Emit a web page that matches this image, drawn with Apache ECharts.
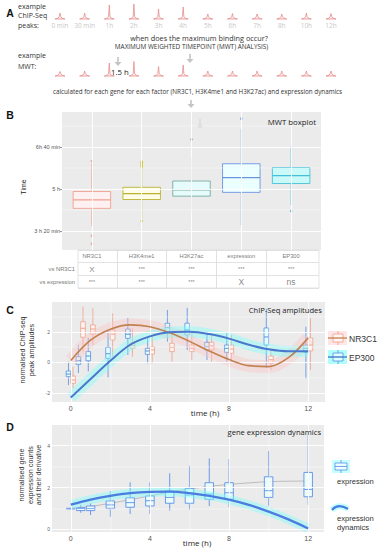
<!DOCTYPE html>
<html><head><meta charset="utf-8">
<script src="https://cdn.jsdelivr.net/npm/echarts@6/dist/echarts.min.js"></script>
<style>html,body{margin:0;padding:0;background:#fff}#c{width:379px;height:550px}</style>
</head><body><div id="c"></div>
<script>
// ---------- Panel A ----------
const peakLabels = ['0 min','30 min','1h','2h','3h','4h','5h','6h','7h','8h','10h','12h'];
const chipPeakHeights = [6, 6, 14, 15, 10, 12, 5, 5.5, 5, 5, 6, 5.5];
const mwtPeakHeights = [4.5, 5, 13, 14.5, 9.5, 11, 5, 5, 5, 5, 5, 5];

// ---------- Panel B (minutes) ----------
const mwtCategories = ['NR3C1','H3K4me1','H3K27ac','expression','EP300'];
const mwtMin    = [212, 230, 244, 214, 262];
const mwtQ1     = [254, 275, 283, 292, 313];
const mwtMedian = [274, 289, 298, 327, 332];
const mwtQ3     = [294, 304, 319, 360, 351];
const mwtMax    = [360, 349, 374, 443, 401];
const mwtOutlierCat = [0, 0, 0, 1, 1, 1, 1, 1, 1, 1, 2, 3, 4];
const mwtOutlierVal = [366, 189, 170, 351, 354, 357, 360, 363, 365, 224, 418, 467, 248];
const mwtTickValues = [200, 300, 400];
const mwtTickLabels = ['3 h 20 min', '5 h', '6h 40 min'];
const tableRows = ['', 'vs NR3C1', 'vs expression'];
const vsNR3C1 = ['X', '***', '***', '***', '***'];
const vsExpression = ['***', '***', '***', 'X', 'ns'];

// ---------- Panel C ----------
const timePoints = [0, 0.5, 1, 2, 3, 4, 5, 6, 7, 8, 10, 12];
const nr3c1Boxes = [
  [-1.7, -1.38, -1.16, -0.9, -0.29],
  [0.7, 1.64, 2.23, 2.66, 3.65],
  [1.13, 1.84, 2.18, 2.45, 3.54],
  [0.37, 1.46, 1.84, 2.12, 3.21],
  [0.37, 0.92, 1.09, 1.25, 2.23],
  [-0.07, 0.54, 0.81, 1.02, 1.68],
  [0.04, 0.7, 0.98, 1.25, 2.0],
  [0.15, 0.7, 0.92, 1.13, 2.0],
  [0.04, 0.81, 1.07, 1.31, 1.9],
  [-0.07, 0.59, 0.87, 1.13, 1.79],
  [-0.5, -0.07, 0.17, 0.41, 0.81],
  [-0.5, 0.75, 1.13, 1.6, 2.88]
];
const ep300Boxes = [
  [-1.49, -0.94, -0.77, -0.57, 0.04],
  [-0.7, -0.13, 0.1, 0.37, 1.13],
  [-0.6, 0.1, 0.41, 0.7, 1.6],
  [-1.0, 0.26, 0.56, 0.98, 2.1],
  [0.48, 1.57, 1.84, 2.18, 2.9],
  [-0.07, 0.52, 0.74, 0.92, 1.68],
  [1.35, 1.97, 2.27, 2.56, 3.43],
  [0.81, 1.79, 2.12, 2.56, 3.56],
  [0.15, 0.81, 1.02, 1.31, 2.0],
  [0.04, 0.65, 0.92, 1.13, 1.92],
  [-0.35, 1.13, 1.66, 2.25, 3.5],
  [-1.05, 0.65, 0.92, 1.13, 2.33]
];
const curveTimes = [0, 1, 2, 3, 4, 5, 6, 7, 8, 9, 10, 11, 12];
const nr3c1Fit = [0.12, 1.45, 2.17, 2.45, 2.33, 1.93, 1.37, 0.74, 0.18, -0.22, -0.28, 0.3, 1.6];
const ep300Fit = [-2.3, -1.1, 0.1, 1.15, 1.7, 1.97, 2.0, 1.85, 1.55, 1.15, 0.85, 0.72, 0.72];

// ---------- Panel D ----------
const exprBoxes = [
  [0.97, 0.99, 1.0, 1.01, 1.03],
  [0.8, 0.9, 1.0, 1.04, 1.17],
  [0.69, 0.9, 1.0, 1.12, 1.25],
  [0.61, 1.01, 1.17, 1.36, 1.83],
  [0.74, 1.06, 1.28, 1.51, 2.25],
  [0.74, 1.12, 1.37, 1.6, 2.25],
  [0.9, 1.25, 1.53, 1.83, 2.68],
  [0.93, 1.25, 1.64, 1.96, 3.04],
  [1.12, 1.44, 1.69, 2.23, 3.39],
  [1.06, 1.44, 1.75, 2.23, 3.36],
  [1.13, 1.53, 1.85, 2.51, 3.74],
  [1.17, 1.56, 1.91, 2.72, 4.5]
];
const exprTrend = [1.0, 1.1, 1.25, 1.42, 1.6, 1.78, 1.93, 2.05, 2.15, 2.22, 2.28, 2.3, 2.31];
const exprDerivative = [1.18, 1.42, 1.6, 1.73, 1.79, 1.8, 1.73, 1.6, 1.42, 1.17, 0.85, 0.48, 0.05];

// ---------- styles ----------
const SANS = 'Liberation Sans';
const HUM = 'Open Sans';
const bStroke = ['#f0a090', '#b9b335', '#78aaa2', '#6c92e0', '#45bfd6'];
const bFill = ['#fff1f1', '#fffde6', '#e6fbfb', '#ebffff', '#c9f9f9'];
const bOut = ['#e69b8c', '#c9c32a', '#7a9c98', '#6a8fe0', '#3aa8b8'];

function makeBox(widthPx, offsetPx, strokeFn, fillFn, lw, medLw) {
  return function (params, api) {
    const x = api.value(0);
    const pMin = api.coord([x, api.value(1)]);
    const pQ1 = api.coord([x, api.value(2)]);
    const pMed = api.coord([x, api.value(3)]);
    const pQ3 = api.coord([x, api.value(4)]);
    const pMax = api.coord([x, api.value(5)]);
    const cx = pMed[0] + offsetPx, hw = widthPx / 2;
    const stroke = strokeFn(params.dataIndex), fill = fillFn(params.dataIndex);
    return {type: 'group', children: [
      {type: 'line', shape: {x1: cx, y1: pMax[1], x2: cx, y2: pQ3[1]}, style: {stroke, lineWidth: lw}},
      {type: 'line', shape: {x1: cx, y1: pQ1[1], x2: cx, y2: pMin[1]}, style: {stroke, lineWidth: lw}},
      {type: 'rect', shape: {x: cx - hw, y: pQ3[1], width: 2 * hw, height: Math.max(0.8, pQ1[1] - pQ3[1])}, style: {fill, stroke, lineWidth: lw}},
      {type: 'line', shape: {x1: cx - hw, y1: pMed[1], x2: cx + hw, y2: pMed[1]}, style: {stroke, lineWidth: medLw}}
    ]};
  };
}

function peakRender(params, api) {
  const b = api.coord([api.value(0), 0]);
  const t = api.coord([api.value(0), api.value(1)]);
  const x = b[0], y0 = b[1], y1 = t[1];
  return {type: 'polygon', shape: {points: [[x - 5, y0], [x - 2, y0 - 0.8], [x - 0.7, y0 - 2.6], [x, y1], [x + 0.7, y0 - 2.6], [x + 2, y0 - 0.8], [x + 5, y0]]},
    style: {fill: 'rgba(248,190,190,0.3)', stroke: '#e38a8a', lineWidth: 0.75}};
}

function gridSeries(xi, yi, vx, vy, vxMinor, vyMinor, color) {
  const c = color || '#ffffff';
  const data = [];
  vx.forEach(v => data.push({xAxis: v, lineStyle: {color: c, width: 0.9, type: 'solid'}}));
  vxMinor.forEach(v => data.push({xAxis: v, lineStyle: {color: c, width: 0.45, type: 'solid'}}));
  vy.forEach(v => data.push({yAxis: v, lineStyle: {color: c, width: 0.9, type: 'solid'}}));
  vyMinor.forEach(v => data.push({yAxis: v, lineStyle: {color: c, width: 0.45, type: 'solid'}}));
  return {type: 'line', xAxisIndex: xi, yAxisIndex: yi, data: [], silent: true, z: 1,
    markLine: {silent: true, symbol: ['none', 'none'], label: {show: false}, animation: false,
      emphasis: {disabled: true}, data}};
}

function hiddenAxis(extra) {
  return Object.assign({show: false}, extra);
}
const tickStyle = {show: true, length: 2.5, lineStyle: {color: '#555', width: 0.6}};

const boxData = (arr) => arr.map((b, i) => [timePoints[i], b[0], b[1], b[2], b[3], b[4]]);
const curveData = (arr) => curveTimes.map((t, i) => [t, arr[i]]);

const option = {
  animation: false,
  backgroundColor: '#ffffff',
  grid: [
    {left: 60, top: 3, width: 271, height: 16},
    {left: 60, top: 60, width: 271, height: 16},
    {left: 62, top: 112, width: 259, height: 138, show: true, backgroundColor: '#ebebeb', borderWidth: 0},
    {left: 78, top: 250, width: 241, height: 38, show: true, backgroundColor: '#ffffff', borderColor: '#dcdcdc', borderWidth: 0.8},
    {left: 52, top: 302, width: 273, height: 100, show: true, backgroundColor: '#ebebeb', borderWidth: 0},
    {left: 52, top: 425, width: 272, height: 107, show: true, backgroundColor: '#ebebeb', borderWidth: 0}
  ],
  xAxis: [
    {type: 'category', gridIndex: 0, data: peakLabels, boundaryGap: false,
      axisLine: {show: false}, axisTick: {show: false}, splitLine: {show: false},
      axisLabel: {interval: 0, color: '#c8c8c8', fontSize: 6.5, fontFamily: HUM, margin: 3}},
    {type: 'category', gridIndex: 1, data: peakLabels, boundaryGap: false, show: false},
    hiddenAxis({type: 'value', gridIndex: 2, min: 0.4, max: 5.6}),
    hiddenAxis({type: 'value', gridIndex: 3, min: 0.7212, max: 5.56}),
    {type: 'value', gridIndex: 4, min: -0.95, max: 12.85, axisLine: {show: false}, splitLine: {show: false},
      axisTick: Object.assign({customValues: [0, 4, 8, 12]}, tickStyle),
      axisLabel: {customValues: [0, 4, 8, 12], color: '#555', fontSize: 7, fontFamily: SANS, margin: 3}},
    {type: 'value', gridIndex: 5, min: -0.95, max: 12.8, axisLine: {show: false}, splitLine: {show: false},
      axisTick: Object.assign({customValues: [0, 4, 8, 12]}, tickStyle),
      axisLabel: {customValues: [0, 4, 8, 12], color: '#555', fontSize: 7, fontFamily: SANS, margin: 3}}
  ],
  yAxis: [
    hiddenAxis({type: 'value', gridIndex: 0, min: 0, max: 16}),
    hiddenAxis({type: 'value', gridIndex: 1, min: 0, max: 16}),
    {type: 'value', gridIndex: 2, min: 155, max: 483, axisLine: {show: false}, splitLine: {show: false},
      axisTick: Object.assign({customValues: mwtTickValues}, tickStyle, {length: 2}),
      axisLabel: {customValues: mwtTickValues, color: '#555', fontSize: 5.5, fontFamily: SANS, margin: 2,
        formatter: v => mwtTickLabels[mwtTickValues.indexOf(v)] || ''}},
    {type: 'category', gridIndex: 3, data: tableRows, inverse: true, axisLine: {show: false}, axisTick: {show: false},
      splitLine: {show: true, interval: 0, lineStyle: {color: '#dcdcdc', width: 0.8}},
      axisLabel: {interval: 0, color: '#777', fontSize: 5.8, fontFamily: SANS, margin: 3}},
    {type: 'value', gridIndex: 4, min: -2.6, max: 3.95, axisLine: {show: false}, splitLine: {show: false},
      axisTick: Object.assign({customValues: [-2, 0, 2]}, tickStyle, {length: 2}),
      axisLabel: {customValues: [-2, 0, 2], color: '#666', fontSize: 5, fontFamily: SANS, margin: 2}},
    {type: 'value', gridIndex: 5, min: -0.12, max: 4.98, axisLine: {show: false}, splitLine: {show: false},
      axisTick: Object.assign({customValues: [0, 2, 4]}, tickStyle, {length: 2}),
      axisLabel: {customValues: [0, 2, 4], color: '#666', fontSize: 5, fontFamily: SANS, margin: 2}}
  ],
  series: [
    // Panel A peaks
    {type: 'custom', xAxisIndex: 0, yAxisIndex: 0, renderItem: peakRender, encode: {x: 0, y: 1},
      data: chipPeakHeights.map((h, i) => [i, h])},
    {type: 'custom', xAxisIndex: 1, yAxisIndex: 1, renderItem: peakRender, encode: {x: 0, y: 1},
      data: mwtPeakHeights.map((h, i) => [i, h])},

    // Panel B
    gridSeries(2, 2, [1, 2, 3, 4, 5], mwtTickValues, [], [250, 350, 450]),
    {type: 'custom', xAxisIndex: 2, yAxisIndex: 2, z: 3, encode: {x: 0, y: [1, 2, 3, 4, 5]},
      renderItem: makeBox(37.5, 0, i => bStroke[i], i => bFill[i], 0.9, 1.3),
      data: mwtCategories.map((c, i) => [i + 1, mwtMin[i], mwtQ1[i], mwtMedian[i], mwtQ3[i], mwtMax[i]])},
    {type: 'scatter', xAxisIndex: 2, yAxisIndex: 2, z: 4, symbolSize: 2.6,
      data: mwtOutlierVal.map((v, i) => ({value: [mwtOutlierCat[i] + 1, v], itemStyle: {color: bOut[mwtOutlierCat[i]]}}))},

    // table
    gridSeries(3, 3, [1.5, 2.5, 3.5, 4.5], [], [], [], '#dcdcdc'),
    {type: 'scatter', xAxisIndex: 3, yAxisIndex: 3, z: 4, symbolSize: 1, itemStyle: {color: 'rgba(0,0,0,0)'},
      label: {show: true, position: 'inside', color: '#666', fontFamily: SANS, fontSize: 5.8, formatter: p => p.value[2]},
      data: [].concat(
        mwtCategories.map((c, i) => ({value: [i + 1, 0, c], label: {color: '#555', fontSize: 5.8}})),
        vsNR3C1.map((t, i) => ({value: [i + 1, 1, t], label: {fontSize: t === '***' ? 5.5 : 8}})),
        vsExpression.map((t, i) => ({value: [i + 1, 2, t], label: {fontSize: t === '***' ? 5.5 : 8.5}}))
      )},

    // Panel C
    gridSeries(4, 4, [0, 4, 8, 12], [-2, 0, 2], [2, 6, 10], [-1, 1, 3]),
    {type: 'custom', xAxisIndex: 4, yAxisIndex: 4, z: 3, encode: {x: 0, y: [1, 2, 3, 4, 5]},
      renderItem: makeBox(4.6, -2.3, () => '#5b8edf', () => '#e2ffff', 0.8, 1.0), data: boxData(ep300Boxes)},
    {type: 'custom', xAxisIndex: 4, yAxisIndex: 4, z: 3, encode: {x: 0, y: [1, 2, 3, 4, 5]},
      renderItem: makeBox(4.6, 2.3, () => '#eea08a', () => '#fff4f1', 0.8, 1.0), data: boxData(nr3c1Boxes)},
    {type: 'line', xAxisIndex: 4, yAxisIndex: 4, z: 4, smooth: 0.35, symbol: 'none', silent: true,
      lineStyle: {color: 'rgba(255,195,195,0.38)', width: 13}, data: curveData(nr3c1Fit)},
    {type: 'line', xAxisIndex: 4, yAxisIndex: 4, z: 4, smooth: 0.35, symbol: 'none', silent: true,
      lineStyle: {color: 'rgba(120,255,250,0.4)', width: 11}, data: curveData(ep300Fit)},
    {type: 'line', xAxisIndex: 4, yAxisIndex: 4, z: 5, smooth: 0.35, symbol: 'none', silent: true,
      lineStyle: {color: '#c28150', width: 1.6}, data: curveData(nr3c1Fit)},
    {type: 'line', xAxisIndex: 4, yAxisIndex: 4, z: 5, smooth: 0.35, symbol: 'none', silent: true,
      lineStyle: {color: '#4a78cc', width: 2}, data: curveData(ep300Fit)},

    // Panel D
    gridSeries(5, 5, [0, 4, 8, 12], [0, 2, 4], [2, 6, 10], [1, 3]),
    {type: 'line', xAxisIndex: 5, yAxisIndex: 5, z: 2, smooth: 0.35, symbol: 'none', silent: true,
      lineStyle: {color: '#b0b0b0', width: 0.8}, data: curveData(exprTrend)},
    {type: 'custom', xAxisIndex: 5, yAxisIndex: 5, z: 3, encode: {x: 0, y: [1, 2, 3, 4, 5]},
      renderItem: makeBox(8.5, 0, () => '#5b8ee6', () => 'rgba(236,255,255,0.85)', 0.9, 0.9), data: boxData(exprBoxes)},
    {type: 'line', xAxisIndex: 5, yAxisIndex: 5, z: 4, smooth: 0.35, symbol: 'none', silent: true,
      lineStyle: {color: 'rgba(120,255,250,0.42)', width: 9}, data: curveData(exprDerivative)},
    {type: 'line', xAxisIndex: 5, yAxisIndex: 5, z: 5, smooth: 0.35, symbol: 'none', silent: true,
      lineStyle: {color: '#4a7ddf', width: 2.3}, data: curveData(exprDerivative)}
  ],
  graphic: []
};

function T(x, y, text, o) {
  o = o || {};
  return {type: 'text', x, y, rotation: o.rotation || 0, silent: true, z: 100,
    style: {text, fill: o.color || '#333', fontSize: o.size || 7, fontFamily: o.font || HUM,
      fontWeight: o.weight || 'normal', align: o.align || 'left', verticalAlign: o.valign || 'middle',
      lineHeight: o.lh || undefined}};
}
function arrow(x, y1, y2, color) {
  return {type: 'group', silent: true, children: [
    {type: 'line', shape: {x1: x, y1: y1, x2: x, y2: y2 - 3.5}, style: {stroke: color, lineWidth: 1.6}},
    {type: 'polygon', shape: {points: [[x - 3.5, y2 - 4], [x + 3.5, y2 - 4], [x, y2]]}, style: {fill: color}}
  ]};
}
const g = option.graphic;
// panel letters
g.push(T(10, 13, 'A', {font: SANS, weight: 'bold', size: 10.5, color: '#111', align: 'center'}));
g.push(T(10, 115, 'B', {font: SANS, weight: 'bold', size: 10.5, color: '#111', align: 'center'}));
g.push(T(10, 310, 'C', {font: SANS, weight: 'bold', size: 10.5, color: '#111', align: 'center'}));
g.push(T(10, 427, 'D', {font: SANS, weight: 'bold', size: 10.5, color: '#111', align: 'center'}));
// panel A
g.push(T(18, 2, 'example\nChIP-Seq\npeaks:', {size: 7, lh: 9.2, valign: 'top'}));
g.push(T(199, 38.3, 'when does the maximum binding occur?', {size: 7.3, align: 'center'}));
g.push(T(191.5, 46.7, 'MAXIMUM WEIGHTED TIMEPOINT (MWT) ANALYSIS)', {size: 6.4, align: 'center'}));
g.push(T(18, 50.5, 'example\nMWT:', {size: 7, lh: 10.5, valign: 'top'}));
g.push(T(120, 71.5, '1.5 h', {size: 7.8, align: 'center', color: '#222'}));
g.push(T(197.5, 91.7, 'calculated for each gene for each factor (NR3C1, H3K4me1 and H3K27ac) and expression dynamics', {size: 6.3, align: 'center'}));
g.push(arrow(118, 57, 66, '#c4c4c4'));
g.push(arrow(190, 54, 63, '#c4c4c4'));
g.push(arrow(191, 100, 108, '#c4c4c4'));
g.push(arrow(200, 119, 129, '#dadada'));
// panel B
g.push(T(316, 121.7, 'MWT boxplot', {size: 7.8, align: 'right', color: '#222'}));
g.push(T(23, 187, 'Time', {font: SANS, size: 7, rotation: Math.PI / 2, align: 'center', color: '#222'}));
// panel C
g.push(T(322, 310, 'ChIP-Seq amplitudes', {size: 7.6, align: 'right', color: '#222'}));
g.push(T(205, 412, 'time (h)', {size: 8, align: 'center', color: '#222'}));
g.push(T(27, 350, 'normalised ChIP-seq\npeak amplitudes', {font: SANS, size: 7.2, lh: 9.5, rotation: Math.PI / 2, align: 'center', color: '#333'}));
// legend C
g.push({type: 'rect', silent: true, shape: {x: 328, y: 331, width: 19, height: 14}, style: {fill: 'rgba(255,205,205,0.5)'}});
g.push({type: 'rect', silent: true, shape: {x: 333, y: 334, width: 10, height: 8}, style: {fill: '#fff6f3', stroke: '#eea08a', lineWidth: 0.8}});
g.push({type: 'line', silent: true, shape: {x1: 328, y1: 338, x2: 347, y2: 338}, style: {stroke: '#c28150', lineWidth: 1.3}});
g.push({type: 'line', silent: true, shape: {x1: 338, y1: 331, x2: 338, y2: 334}, style: {stroke: '#eea08a', lineWidth: 0.8}});
g.push({type: 'line', silent: true, shape: {x1: 338, y1: 342, x2: 338, y2: 345}, style: {stroke: '#eea08a', lineWidth: 0.8}});
g.push(T(349, 338.5, 'NR3C1', {font: SANS, size: 8.5, color: '#333'}));
g.push({type: 'rect', silent: true, shape: {x: 328, y: 350, width: 19, height: 14}, style: {fill: 'rgba(110,255,250,0.55)'}});
g.push({type: 'rect', silent: true, shape: {x: 333, y: 353, width: 10, height: 8}, style: {fill: '#dcffff', stroke: '#5b8edf', lineWidth: 0.8}});
g.push({type: 'line', silent: true, shape: {x1: 328, y1: 357, x2: 347, y2: 357}, style: {stroke: '#4a78cc', lineWidth: 1.4}});
g.push({type: 'line', silent: true, shape: {x1: 338, y1: 350, x2: 338, y2: 353}, style: {stroke: '#5b8edf', lineWidth: 0.8}});
g.push({type: 'line', silent: true, shape: {x1: 338, y1: 361, x2: 338, y2: 364}, style: {stroke: '#5b8edf', lineWidth: 0.8}});
g.push(T(349, 357.5, 'EP300', {font: SANS, size: 8.5, color: '#333'}));
// panel D
g.push(T(321, 431.7, 'gene expression dynamics', {size: 7.6, align: 'right', color: '#222'}));
g.push(T(197, 542.5, 'time (h)', {size: 8, align: 'center', color: '#222'}));
g.push(T(30, 475, 'normalised gene\nexpression counts\nand their derivative', {font: SANS, size: 7.2, lh: 8.6, rotation: Math.PI / 2, align: 'center', color: '#333'}));
// legend D
g.push({type: 'rect', silent: true, shape: {x: 332, y: 460, width: 18, height: 13}, style: {fill: 'rgba(160,255,255,0.6)'}});
g.push({type: 'rect', silent: true, shape: {x: 335, y: 463, width: 12, height: 7}, style: {fill: '#ecffff', stroke: '#5b8ee6', lineWidth: 0.8}});
g.push({type: 'line', silent: true, shape: {x1: 335, y1: 466.5, x2: 347, y2: 466.5}, style: {stroke: '#5b8ee6', lineWidth: 0.8}});
g.push({type: 'line', silent: true, shape: {x1: 341, y1: 460, x2: 341, y2: 463}, style: {stroke: '#5b8ee6', lineWidth: 0.8}});
g.push({type: 'line', silent: true, shape: {x1: 341, y1: 470, x2: 341, y2: 473}, style: {stroke: '#5b8ee6', lineWidth: 0.8}});
g.push(T(337, 481, 'expression', {font: SANS, size: 7.6, color: '#333'}));
g.push({type: 'bezierCurve', silent: true, shape: {x1: 332, y1: 510, x2: 348, y2: 509, cpx1: 338, cpy1: 503}, style: {stroke: 'rgba(150,255,255,0.6)', lineWidth: 6, fill: null}});
g.push({type: 'bezierCurve', silent: true, shape: {x1: 332, y1: 510, x2: 348, y2: 509, cpx1: 338, cpy1: 503}, style: {stroke: '#4a7ddf', lineWidth: 2.2, fill: null}});
g.push(T(337, 514.5, 'expression\ndynamics', {font: SANS, size: 7.6, lh: 8.8, valign: 'top', color: '#333'}));

const chart = echarts.init(document.getElementById('c'), null, {renderer: 'svg'});
chart.setOption(option);
</script></body></html>
